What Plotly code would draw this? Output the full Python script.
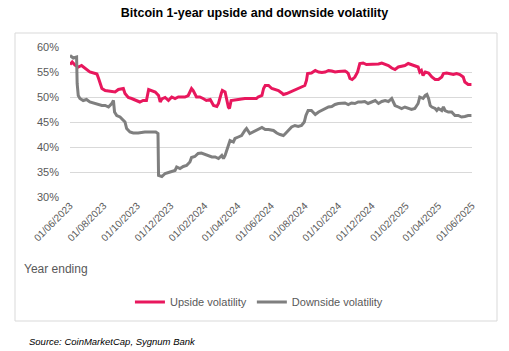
import plotly.graph_objects as go

up_dates = ["2023-06-01","2023-06-05","2023-06-10","2023-06-16","2023-06-22","2023-06-28","2023-07-07","2023-07-17","2023-07-20","2023-07-23","2023-07-26","2023-07-29","2023-08-04","2023-08-16","2023-08-22","2023-08-28","2023-09-06","2023-09-09","2023-09-15","2023-09-21","2023-09-30","2023-10-06","2023-10-12","2023-10-18","2023-10-22","2023-10-28","2023-11-03","2023-11-09","2023-11-12","2023-11-15","2023-11-21",
"2023-11-27","2023-12-03","2023-12-09","2023-12-15","2023-12-27","2024-01-02","2024-01-08","2024-01-11","2024-01-17","2024-01-23","2024-01-29","2024-02-04","2024-02-11","2024-02-17","2024-02-23","2024-02-26","2024-03-02","2024-03-04","2024-03-09","2024-03-12","2024-03-15","2024-03-17","2024-03-20","2024-04-02","2024-04-14","2024-05-05","2024-05-08","2024-05-15","2024-05-18","2024-05-21",
"2024-05-27","2024-06-02","2024-06-14","2024-06-20","2024-06-23","2024-06-29","2024-07-05","2024-07-11","2024-07-17","2024-07-23","2024-08-01","2024-08-04","2024-08-06","2024-08-13","2024-08-20","2024-08-26","2024-09-01","2024-09-07","2024-09-13","2024-09-19","2024-09-25","2024-10-01","2024-10-13","2024-10-16","2024-10-19","2024-10-22","2024-10-26","2024-10-31","2024-11-05","2024-11-09","2024-11-15","2024-11-21",
"2024-11-24","2024-12-01","2024-12-07","2024-12-13","2024-12-19","2024-12-25","2024-12-31","2025-01-06","2025-01-12","2025-01-18","2025-01-24","2025-01-30","2025-02-05","2025-02-11","2025-02-17","2025-02-23","2025-02-26","2025-03-01","2025-03-04","2025-03-08","2025-03-14","2025-03-20","2025-03-26","2025-04-01","2025-04-07","2025-04-10","2025-04-16","2025-04-22","2025-04-28","2025-05-04","2025-05-10","2025-05-16","2025-05-19","2025-05-25","2025-05-31"]
up_vals = [56.5,57.0,56.4,56.0,56.3,55.7,55.0,54.7,54.6,53.7,52.7,51.7,51.3,51.2,51.0,51.5,51.7,50.7,49.9,49.7,49.3,49.0,49.3,49.3,51.5,51.3,51.0,50.3,49.0,49.6,49.9,
49.3,50.0,49.7,50.0,50.0,50.3,51.7,51.3,50.0,50.0,49.7,49.3,49.5,48.3,48.1,48.7,50.7,51.3,51.0,49.3,48.0,47.7,49.3,49.5,49.7,49.7,50.0,50.3,51.7,52.3,
52.3,51.7,51.3,50.8,50.5,50.7,51.0,51.3,51.7,52.0,52.3,53.3,54.7,54.8,55.3,55.0,54.9,55.0,55.3,55.2,55.0,55.1,55.2,55.0,54.7,53.7,53.5,54.0,55.0,56.7,56.8,56.5,
56.5,56.6,56.5,56.6,56.8,56.6,56.3,55.8,55.5,56.0,56.1,56.3,56.7,56.5,56.3,56.0,55.0,55.3,54.3,55.0,54.8,54.0,53.5,53.5,54.0,54.7,54.8,54.7,54.5,54.7,54.5,54.0,53.0,52.5,52.5]

down_dates = ["2023-06-01","2023-06-07","2023-06-13","2023-06-14","2023-06-16","2023-06-19","2023-06-25","2023-07-01","2023-07-07","2023-07-17","2023-07-23","2023-07-29","2023-08-04","2023-08-10","2023-08-16","2023-08-19","2023-08-21","2023-08-25","2023-08-31","2023-09-06","2023-09-09","2023-09-12","2023-09-18","2023-09-24","2023-10-03","2023-10-15","2023-10-28","2023-11-04","2023-11-08","2023-11-09","2023-11-15","2023-11-21",
"2023-11-30","2023-12-09","2023-12-12","2023-12-18","2023-12-24","2023-12-30","2024-01-05","2024-01-08","2024-01-14","2024-01-20","2024-01-26","2024-02-01","2024-02-08","2024-02-14","2024-02-20","2024-02-26","2024-03-03","2024-03-06","2024-03-09","2024-03-12","2024-03-15","2024-03-18","2024-03-24","2024-03-27","2024-04-02","2024-04-08","2024-04-14","2024-04-17","2024-04-23","2024-04-29","2024-05-05","2024-05-11","2024-05-15","2024-05-21","2024-05-27",
"2024-06-05","2024-06-11","2024-06-17","2024-06-23","2024-06-26","2024-07-02","2024-07-08","2024-07-14","2024-07-20","2024-07-26","2024-07-31","2024-08-03","2024-08-07","2024-08-13","2024-08-20","2024-08-26","2024-09-01","2024-09-07","2024-09-13","2024-09-19","2024-09-25","2024-10-01","2024-10-07","2024-10-13","2024-10-19","2024-10-25","2024-10-31","2024-11-06","2024-11-12","2024-11-18",
"2024-11-24","2024-12-01","2024-12-07","2024-12-13","2024-12-19","2024-12-25","2024-12-31","2025-01-06","2025-01-09","2025-01-12","2025-01-18","2025-01-24","2025-01-30","2025-02-05","2025-02-11","2025-02-17","2025-02-23","2025-02-26","2025-03-04","2025-03-08","2025-03-11","2025-03-14","2025-03-17","2025-03-20","2025-03-26","2025-03-29","2025-04-01","2025-04-07","2025-04-10","2025-04-13","2025-04-19","2025-04-25","2025-05-01","2025-05-07","2025-05-13","2025-05-19","2025-05-25","2025-05-31"]
down_vals = [58.3,57.8,58.0,52.7,50.3,49.7,49.3,49.5,49.0,48.7,48.5,48.3,48.3,48.0,48.7,49.3,47.0,46.3,46.0,45.3,45.0,43.7,43.0,42.8,42.8,43.0,43.0,43.0,42.7,34.3,34.1,34.7,
35.0,35.3,36.0,35.7,36.1,36.3,37.0,37.9,38.1,38.7,38.8,38.5,38.3,38.0,38.0,37.7,38.3,37.7,38.3,39.3,40.7,41.3,41.0,41.7,42.0,42.3,43.3,43.7,42.7,43.0,43.3,43.7,43.9,43.5,43.5,
43.3,42.8,42.5,42.3,42.6,43.3,44.0,44.3,44.1,44.3,45.0,46.3,47.3,47.3,46.5,47.0,47.3,47.7,48.0,48.1,48.5,48.7,48.8,48.8,48.5,48.8,48.7,49.0,49.0,49.1,
48.7,49.0,49.3,48.7,49.1,49.3,49.1,49.7,49.0,48.3,48.0,47.7,48.0,47.7,47.5,47.7,48.7,50.0,49.7,50.3,50.5,49.7,48.3,48.0,47.7,47.3,47.7,47.3,48.0,47.3,47.0,47.0,46.3,46.3,46.0,46.1,46.3,46.3]

tick_dates = ["2023-06-01","2023-08-01","2023-10-01","2023-12-01","2024-02-01","2024-04-01","2024-06-01",
              "2024-08-01","2024-10-01","2024-12-01","2025-02-01","2025-04-01","2025-06-01"]
tick_labels = ["01/06/2023","01/08/2023","01/10/2023","01/12/2023","01/02/2024","01/04/2024","01/06/2024",
               "01/08/2024","01/10/2024","01/12/2024","01/02/2025","01/04/2025","01/06/2025"]
y_ticks = [30, 35, 40, 45, 50, 55, 60]

PINK = "#E8175D"
GREY = "#7F7F7F"
FONT = "Liberation Sans"

fig = go.Figure()
fig.add_trace(go.Scatter(x=up_dates, y=up_vals, mode="lines", name="Upside volatility",
                         line=dict(color=PINK, width=3)))
fig.add_trace(go.Scatter(x=down_dates, y=down_vals, mode="lines", name="Downside volatility",
                         line=dict(color=GREY, width=3)))

fig.update_layout(
    width=509, height=351,
    margin=dict(l=70, r=37, t=47, b=154),
    paper_bgcolor="white", plot_bgcolor="white",
    font=dict(family=FONT, color="#595959", size=11),
    title=dict(text="<b>Bitcoin 1-year upside and downside volatility</b>",
               x=0.5, xanchor="center", y=1 - 13 / 351, yanchor="middle",
               font=dict(family=FONT, size=12.5, color="black")),
    showlegend=True,
    legend=dict(orientation="h", x=0.47, xanchor="center", y=-0.70, yanchor="middle",
                font=dict(size=11, color="#595959"), itemwidth=30, tracegroupgap=0),
    xaxis=dict(range=["2023-06-01", "2025-06-01"], tickmode="array",
               tickvals=tick_dates, ticktext=tick_labels, tickangle=-45,
               showgrid=False, zeroline=False, showline=False, ticks="",
               tickfont=dict(size=10, color="#595959")),
    yaxis=dict(range=[30, 60], tickmode="array", tickvals=y_ticks,
               ticktext=[f"{v}%" for v in y_ticks],
               showgrid=True, gridcolor="#D9D9D9", gridwidth=1, zeroline=False,
               showline=False, ticks="", ticklabelstandoff=10,
               tickfont=dict(size=11, color="#595959")),
)

fig.add_shape(type="rect", xref="paper", yref="paper",
              x0=(15 - 70) / 402, x1=(497 - 70) / 402,
              y0=(197 - 321) / 150, y1=(197 - 33) / 150,
              line=dict(color="#D9D9D9", width=1), fillcolor="rgba(0,0,0,0)", layer="below")

fig.add_annotation(text="Year ending", xref="paper", yref="paper",
                   x=(22 - 70) / 402, y=(197 - 269) / 150, xanchor="left", yanchor="middle",
                   showarrow=False, font=dict(size=12, color="#595959", family=FONT))
fig.add_annotation(text="<i>Source: CoinMarketCap, Sygnum Bank</i>", xref="paper", yref="paper",
                   x=(27 - 70) / 402, y=(197 - 341) / 150, xanchor="left", yanchor="middle",
                   showarrow=False, font=dict(size=9.5, color="black", family=FONT))

fig.write_html("out.html")
